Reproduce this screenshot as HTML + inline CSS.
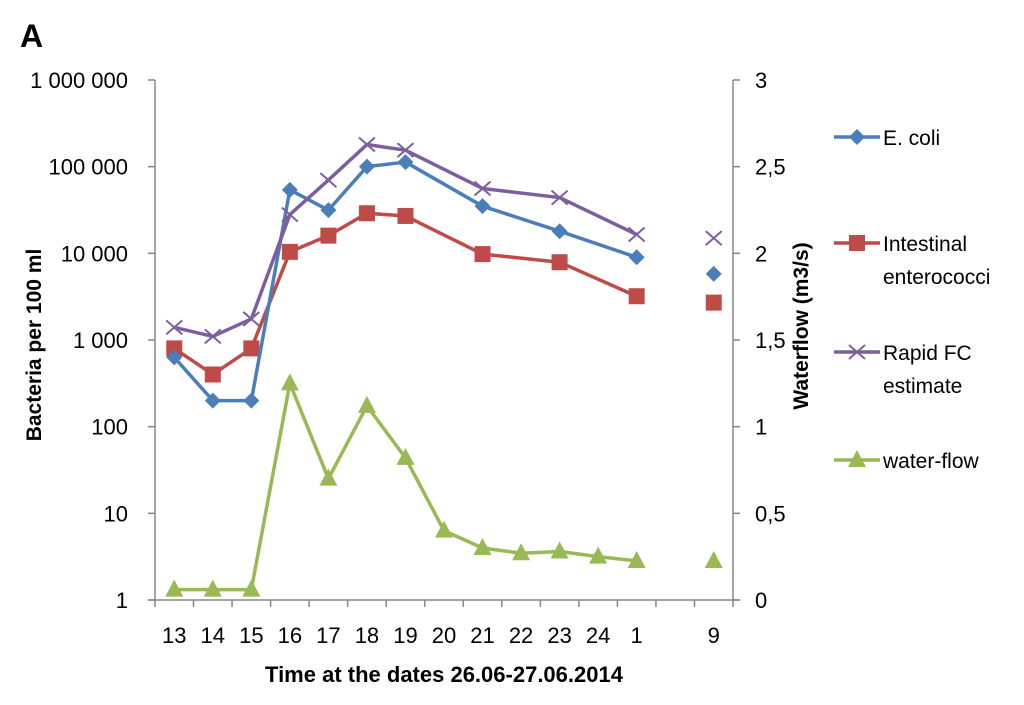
<!DOCTYPE html>
<html><head><meta charset="utf-8"><style>
html,body{margin:0;padding:0;background:#fff;}
svg{display:block;font-family:"Liberation Sans",sans-serif;}
</style></head><body>
<svg id="chart" width="1024" height="705" viewBox="0 0 1024 705">
<text x="20" y="47" font-size="32" font-weight="bold" fill="#000">A</text>
<g id="axes"></g>
<g id="series"></g>
<g id="legend"></g>
<text transform="translate(41,345) rotate(-90)" text-anchor="middle" font-size="21" font-weight="bold">Bacteria per 100 ml</text>
<text transform="translate(808,326) rotate(-90)" text-anchor="middle" font-size="21" font-weight="bold">Waterflow (m3/s)</text>
<text x="444" y="682" text-anchor="middle" font-size="22" font-weight="bold">Time at the dates 26.06-27.06.2014</text>
</svg>
<script>
const categories = ["13","14","15","16","17","18","19","20","21","22","23","24","1","","9"];
const ecoli = [630,200,200,54000,31500,100000,113000,null,35000,null,18000,null,9000,null,5800];
const entero = [800,400,800,10400,16000,29000,27000,null,9800,null,7900,null,3200,null,2700];
const rapidFC = [1400,1100,1750,28000,70000,180000,155000,null,56000,null,44000,null,16500,null,15000];
const waterflow = [0.06,0.06,0.06,1.25,0.70,1.12,0.82,0.40,0.30,0.27,0.28,0.25,0.225,null,0.225];
const leftTicks = [1,10,100,1000,10000,100000,1000000];
const leftTickLabels = ["1","10","100","1 000","10 000","100 000","1 000 000"];
const rightTicks = [0,0.5,1,1.5,2,2.5,3];
const rightTickLabels = ["0","0,5","1","1,5","2","2,5","3"];

const NS="http://www.w3.org/2000/svg";
const X0=155,X1=733,Y0=600,Y1=80;
const slot=(X1-X0)/categories.length;
function xPos(i){return X0+slot*(i+0.5);}
function yLog(v){return Y0-(Math.log10(v)/6)*(Y0-Y1);}
function yLin(v){return Y0-(v/3)*(Y0-Y1);}
function mk(tag,attrs,parent){const e=document.createElementNS(NS,tag);for(const k in attrs)e.setAttribute(k,attrs[k]);parent.appendChild(e);return e;}
const axes=document.getElementById('axes');
const gray="#868686";
let a=mk('line',{x1:X0,y1:Y1,x2:X0,y2:Y0,stroke:gray,'stroke-width':1.5},axes);


a=mk('line',{x1:X1,y1:Y1,x2:X1,y2:Y0,stroke:gray,'stroke-width':1.5},axes);


a=mk('line',{x1:X0-7,y1:Y0,x2:X1+7,y2:Y0,stroke:gray,'stroke-width':1.5},axes);


leftTicks.forEach((v,i)=>{const y=yLog(v);
 mk('line',{x1:X0-7,y1:y,x2:X0,y2:y,stroke:gray,'stroke-width':1.5},axes);
 const t=mk('text',{x:X0-27,y:y+8,'text-anchor':'end','font-size':22},axes);t.textContent=leftTickLabels[i];
 
 });
rightTicks.forEach((v,i)=>{const y=yLin(v);
 mk('line',{x1:X1,y1:y,x2:X1+7,y2:y,stroke:gray,'stroke-width':1.5},axes);
 const t=mk('text',{x:X1+22,y:y+8,'text-anchor':'start','font-size':22},axes);t.textContent=rightTickLabels[i];
 
 });
for(let i=0;i<=categories.length;i++){const x=X0+slot*i;mk('line',{x1:x,y1:Y0,x2:x,y2:Y0+7,stroke:gray,'stroke-width':1.5},axes);}
categories.forEach((c,i)=>{if(!c)return;const t=mk('text',{x:xPos(i),y:643,'text-anchor':'middle','font-size':22},axes);t.textContent=c;
 
 });

const sg=document.getElementById('series');
function marker(type,x,y,color,parent){
 if(type==='diamond')return mk('polygon',{points:`${x},${y-8} ${x+8},${y} ${x},${y+8} ${x-8},${y}`,fill:color},parent);
 if(type==='square')return mk('rect',{x:x-8,y:y-8,width:16,height:16,fill:color},parent);
 if(type==='tri')return mk('polygon',{points:`${x},${y-10} ${x+9},${y+7} ${x-9},${y+7}`,fill:color},parent);
 if(type==='x')return mk('path',{d:`M${x-8},${y-7}L${x+8},${y+7}M${x-8},${y+7}L${x+8},${y-7}`,stroke:color,'stroke-width':2,fill:'none'},parent);
}
function drawSeries(vals,yf,color,type,name){
 const g=mk('g',{},sg);
 
 
 const pts=[];for(let i=0;i<13;i++){if(vals[i]!=null)pts.push([xPos(i),yf(vals[i])]);}
 mk('polyline',{points:pts.map(p=>p.join(',')).join(' '),fill:'none',stroke:color,'stroke-width':3.5,'stroke-linejoin':'round'},g);
 vals.forEach((v,i)=>{if(v==null)return;const m=marker(type,xPos(i),yf(v),color,g);
  
  });
}
drawSeries(waterflow,yLin,"#98B954","tri","water-flow-series");
drawSeries(entero,yLog,"#BE4B48","square","enterococci-series");
drawSeries(ecoli,yLog,"#4A7EBB","diamond","ecoli-series");
drawSeries(rapidFC,yLog,"#7D5FA0","x","rapid-fc-series");

const lg=document.getElementById('legend');
const items=[["E. coli",null,"#4A7EBB","diamond",137],["Intestinal","enterococci","#BE4B48","square",243],["Rapid FC","estimate","#7D5FA0","x",352],["water-flow",null,"#98B954","tri",460]];
items.forEach(it=>{const g=mk('g',{},lg);
 
 
 mk('line',{x1:834,y1:it[4],x2:880,y2:it[4],stroke:it[2],'stroke-width':3.5},g);
 marker(it[3],857,it[4],it[2],g);
 let t=mk('text',{x:883,y:it[4]+8,'font-size':21},g);t.textContent=it[0];
 if(it[1]){t=mk('text',{x:883,y:it[4]+41,'font-size':21},g);t.textContent=it[1];}
});
</script>
</body></html>
